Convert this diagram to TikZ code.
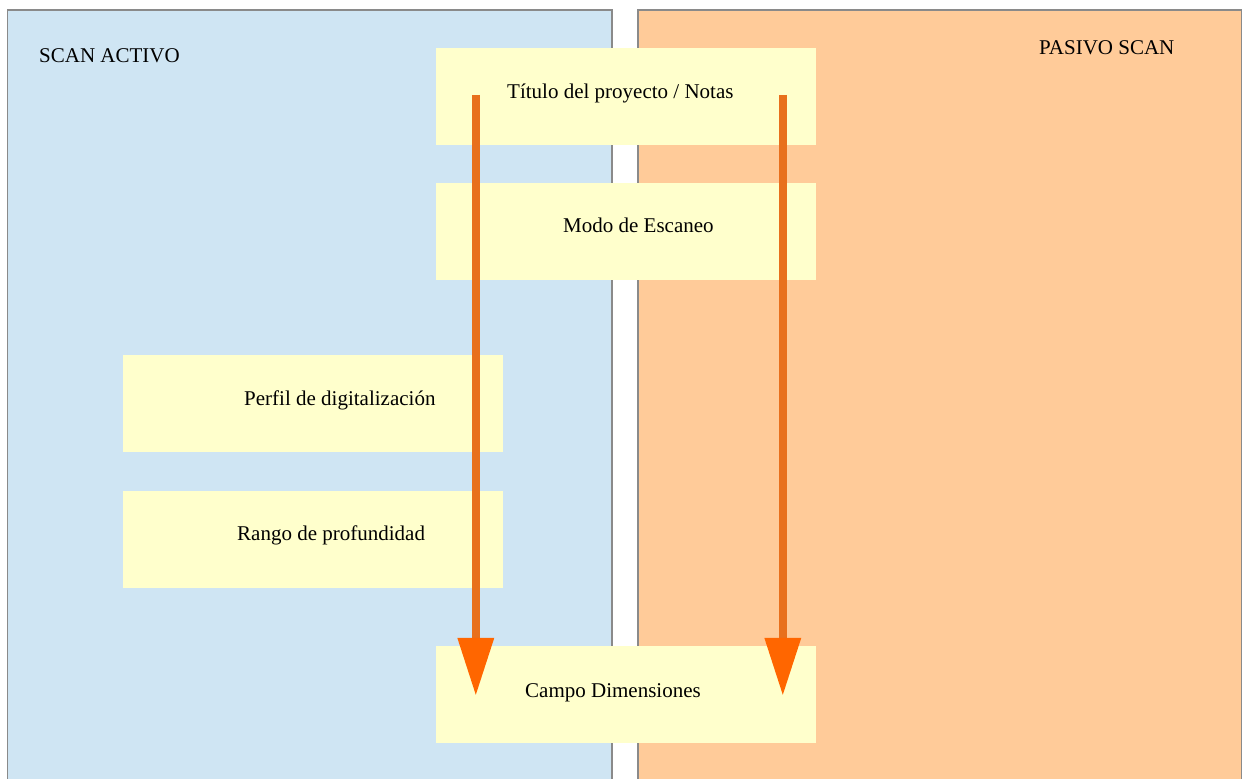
\documentclass[tikz,border=0pt]{standalone}
\usepackage{fontspec}
\setmainfont{Liberation Serif}
\usetikzlibrary{arrows.meta,calc}
\definecolor{panelblue}{HTML}{CFE5F3}
\definecolor{panelorange}{HTML}{FFCB99}
\definecolor{boxyellow}{HTML}{FFFFCC}
\definecolor{shaftorange}{HTML}{E8701C}
\definecolor{headorange}{HTML}{FF6600}
\definecolor{bordergray}{HTML}{8A8A8A}
\begin{document}
\begin{tikzpicture}[x=1pt,y=-1pt,
  panelline/.style={bordergray, line width=1.5pt},
  ybox/.style={fill=boxyellow, draw=none, inner sep=0pt, minimum width=380pt, minimum height=97pt},
  lbl/.style={inner sep=0pt, anchor=base west, font=\fontsize{21}{25}\selectfont, text=black},
  flow/.style={shaftorange, line width=8pt, -{Triangle[width=37pt, length=57pt, color=headorange, line width=0pt]}}
]
\useasboundingbox (0,0) rectangle (1243,779);
\fill[white] (0,0) rectangle (1243,779);
% panels
\fill[panelblue] (7.5,10) rectangle (612,779);
\draw[panelline] (7.5,779) -- (7.5,10) -- (612,10) -- (612,779);
\fill[panelorange] (638,10) rectangle (1241.5,779);
\draw[panelline] (638,779) -- (638,10) -- (1241.5,10) -- (1241.5,779);
\node[lbl] (activo) at (39,62.5) {SCAN ACTIVO};
\node[lbl] (pasivo) at (1039,54) {PASIVO SCAN};
% boxes
\node[ybox] (titulo) at (625.5,96.5) {};
\node[ybox] (modo) at (625.5,231.5) {};
\node[ybox] (perfil) at (312.5,403) {};
\node[ybox] (rango) at (312.5,539) {};
\node[ybox] (campo) at (625.5,694.5) {};
% texts
\node[lbl] (ttitulo) at (507,98) {Título del proyecto / Notas};
\node[lbl] (tmodo) at (563,232) {Modo de Escaneo};
\node[lbl] (tperfil) at (244,405) {Perfil de digitalización};
\node[lbl] (trango) at (237,540) {Rango de profundidad};
\node[lbl] (tcampo) at (525,697) {Campo Dimensiones};
% arrows
\coordinate (s1) at ($(titulo.north west)+(40.5,47)$);
\coordinate (e1) at ($(campo.north west)+(40.5,49)$);
\coordinate (s2) at ($(titulo.north west)+(347.5,47)$);
\coordinate (e2) at ($(campo.north west)+(347.5,49)$);
\draw[flow] (s1) -- (e1);
\draw[flow] (s2) -- (e2);
\end{tikzpicture}
\end{document}
